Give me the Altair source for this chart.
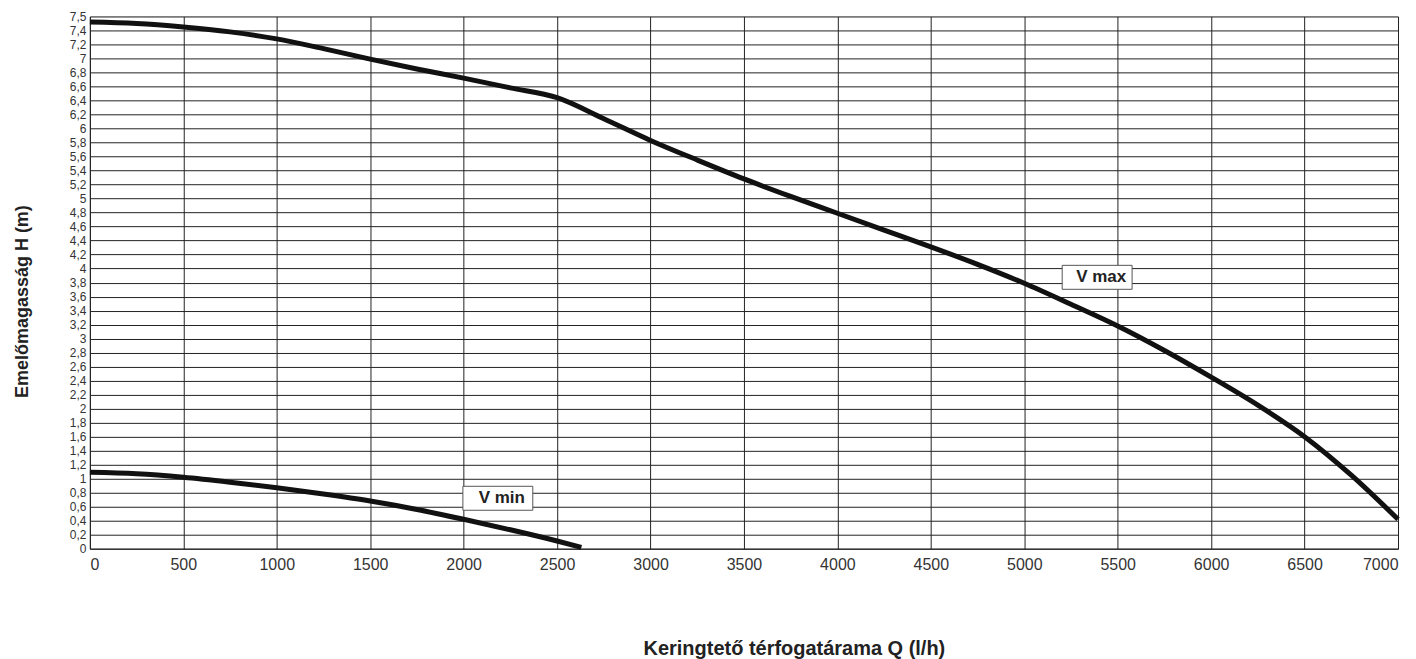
import altair as alt
import pandas as pd

# V max curve
q_max = [0, 250, 500, 750, 1000, 1250, 1500, 1750, 2000, 2250, 2500, 2750, 3000, 3250, 3500,
         3750, 4000, 4250, 4500, 4750, 5000, 5250, 5500, 5750, 6000, 6250, 6500, 6750, 7000]
h_max = [7.52, 7.50, 7.45, 7.38, 7.28, 7.14, 6.99, 6.85, 6.72, 6.58, 6.44, 6.14, 5.83, 5.55, 5.28,
         5.03, 4.79, 4.55, 4.31, 4.06, 3.79, 3.49, 3.18, 2.83, 2.45, 2.05, 1.60, 1.05, 0.42]

# V min curve
q_min = [0, 250, 500, 750, 1000, 1250, 1500, 1750, 2000, 2250, 2500, 2630]
h_min = [1.09, 1.07, 1.02, 0.95, 0.87, 0.78, 0.68, 0.56, 0.42, 0.27, 0.11, 0.02]

label_text = ["V max", "V min"]
label_q = [5390, 2183]
label_h = [3.875, 0.72]

x_ticks = list(range(0, 7001, 500))
y_ticks = [round(i * 0.2, 1) for i in range(0, 39)]  # 0 .. 7.6 (top line labelled 7,5)

df = pd.DataFrame({
    "Q": q_max + q_min,
    "H": h_max + h_min,
    "curve": ["V max"] * len(q_max) + ["V min"] * len(q_min),
})
labels = pd.DataFrame({"text": label_text, "Q": label_q, "H": label_h})

FONT = "Liberation Sans, Arial"

x_scale = alt.Scale(domain=[0, 7000], nice=False, zero=False)
y_scale = alt.Scale(domain=[0, 7.6], nice=False, zero=False)

x_axis = alt.Axis(
    title="Keringtető térfogatárama Q (l/h)",
    values=x_ticks, format="d", ticks=False, labelPadding=8,
    labelFont=FONT, labelFontSize=16, labelColor="#333",
    titleFont=FONT, titleFontSize=20, titleFontWeight="bold", titleColor="#222",
    titleY=100, titleBaseline="middle", titleX=705,
    grid=True, gridColor="#222", gridWidth=1, gridOpacity=1,
    domainColor="#222", labelOverlap=False,
)
y_axis = alt.Axis(
    title="Emelőmagasság H (m)",
    values=y_ticks, ticks=False, labelPadding=4,
    labelExpr="datum.value > 7.55 ? '7,5' : replace(format(datum.value, '.1~f'), '.', ',')",
    labelFont=FONT, labelFontSize=12, labelColor="#333",
    titleFont=FONT, titleFontSize=18, titleFontWeight="bold", titleColor="#222",
    titleX=-67, titleY=285, titleBaseline="middle",
    grid=True, gridColor="#222", gridWidth=1, gridOpacity=1,
    domainColor="#222", labelOverlap=False,
)

X = alt.X("Q:Q", scale=x_scale, axis=x_axis)
Y = alt.Y("H:Q", scale=y_scale, axis=y_axis)

lines = alt.Chart(df).mark_line(strokeWidth=5, color="#111", interpolate="monotone").encode(
    x=X, y=Y, detail="curve:N",
)

boxes = alt.Chart(labels).mark_rect(width=70, height=24, fill="white", stroke="#555", strokeWidth=1).encode(
    x=X, y=Y,
)
texts = alt.Chart(labels).mark_text(font=FONT, fontSize=17, fontWeight="bold",
                                    color="#222", dx=4).encode(
    x=X, y=Y, text="text:N",
)

chart = alt.layer(lines, boxes, texts).properties(
    width=1310, height=533,
    autosize=alt.AutoSizeParams(type="none"),
    padding={"left": 82, "top": 8, "right": 10, "bottom": 110},
).configure_view(stroke="#666", strokeWidth=1).configure(background="white")

chart.save("out.html", embed_options={"renderer": "svg", "actions": False})
